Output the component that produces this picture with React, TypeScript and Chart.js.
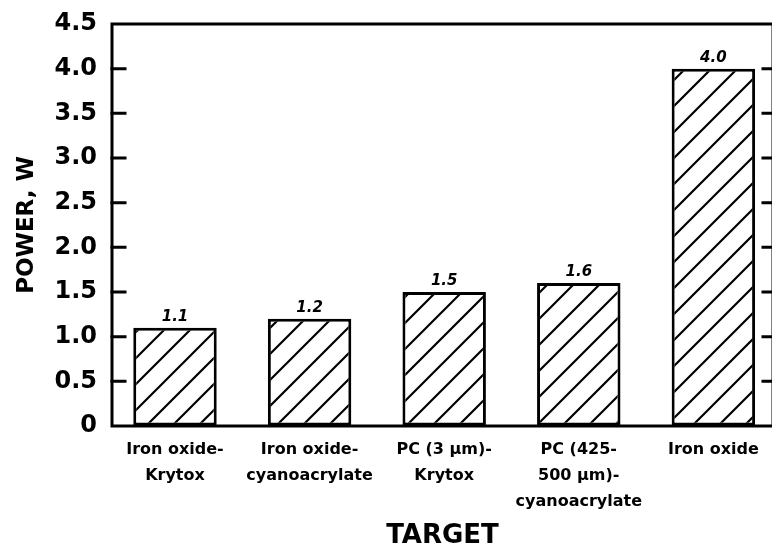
import React, { useEffect, useRef } from "react";
import { Chart, registerables } from "chart.js";

Chart.register(...registerables);

// ---- data ----
const categories: string[][] = [
  ["Iron oxide-", "Krytox"],
  ["Iron oxide-", "cyanoacrylate"],
  ["PC (3 μm)-", "Krytox"],
  ["PC (425-", "500 μm)-", "cyanoacrylate"],
  ["Iron oxide"],
];
const categoryIndex: number[] = [0, 1, 2, 3, 4];
const powerW: number[] = [1.1, 1.2, 1.5, 1.6, 4.0];
const valueLabels: string[] = ["1.1", "1.2", "1.5", "1.6", "4.0"];
const yTitle = "POWER, W";
const xTitle = "TARGET";
const yMin = 0;
const yMax = 4.5;
const yStep = 0.5;
const xMin = -0.468;
const xMax = 4.443;

const FONT = "'DejaVu Sans', sans-serif";

function makeHatch(): CanvasPattern | string {
  const s = 26;
  const c = document.createElement("canvas");
  c.width = s;
  c.height = s;
  const g = c.getContext("2d");
  if (!g) return "#fff";
  g.fillStyle = "#fff";
  g.fillRect(0, 0, s, s);
  g.strokeStyle = "#000";
  g.lineWidth = 2.2;
  g.beginPath();
  g.moveTo(-2, s + 2);
  g.lineTo(s + 2, -2);
  g.moveTo(-2, 2);
  g.lineTo(2, -2);
  g.moveTo(s - 2, s + 2);
  g.lineTo(s + 2, s - 2);
  g.stroke();
  const p = g.createPattern(c, "repeat");
  return p || "#fff";
}

const framePlugin = {
  id: "frame",
  afterDatasetsDraw(chart: any) {
    const { ctx, chartArea, scales } = chart;
    const { left, right, top, bottom } = chartArea;
    const y = scales.y;
    ctx.save();
    ctx.strokeStyle = "#000";
    ctx.lineWidth = 3;
    ctx.lineCap = "square";
    ctx.strokeRect(left, top, right - left, bottom - top);
    ctx.beginPath();
    y.ticks.forEach((t: any) => {
      if (t.value <= yMin || t.value >= yMax) return;
      const py = y.getPixelForValue(t.value);
      ctx.moveTo(left, py);
      ctx.lineTo(left + 13, py);
      ctx.moveTo(right - 10, py);
      ctx.lineTo(right, py);
    });
    ctx.stroke();
    ctx.restore();
  },
};

const valueLabelPlugin = {
  id: "valueLabels",
  afterDatasetsDraw(chart: any) {
    const { ctx } = chart;
    const meta = chart.getDatasetMeta(0);
    ctx.save();
    ctx.fillStyle = "#000";
    ctx.font = `italic bold 15px ${FONT}`;
    ctx.textAlign = "center";
    ctx.textBaseline = "alphabetic";
    meta.data.forEach((bar: any, i: number) => {
      ctx.fillText(valueLabels[i], bar.x, bar.y - 7);
    });
    ctx.restore();
  },
};

export default function App() {
  const ref = useRef<HTMLCanvasElement | null>(null);

  useEffect(() => {
    if (!ref.current) return;
    const hatch = makeHatch();
    const chart = new Chart(ref.current, {
      type: "bar",
      data: {
        datasets: [
          {
            data: categoryIndex.map((x, i) => ({ x, y: powerW[i] })),
            backgroundColor: hatch as any,
            borderColor: "#000",
            borderWidth: 3,
            borderSkipped: false,
            barPercentage: 0.62,
            categoryPercentage: 1,
          },
        ],
      },
      options: {
        responsive: false,
        animation: false,
        events: [],
        layout: { padding: { top: 24, left: 0, right: 0, bottom: 0 } },
        plugins: {
          legend: { display: false },
          tooltip: { enabled: false },
        },
        scales: {
          x: {
            type: "linear",
            min: xMin,
            max: xMax,
            offset: false,
            grid: { display: false, drawTicks: false, offset: false },
            border: { display: false },
            ticks: {
              stepSize: 1,
              includeBounds: false,
              autoSkip: false,
              maxRotation: 0,
              minRotation: 0,
              padding: 11,
              color: "#000",
              font: { family: FONT, size: 16, weight: "bold", lineHeight: 1.625 },
              callback: (v: any) =>
                Number.isInteger(v) && categories[v] ? categories[v] : "",
            },
            title: {
              display: true,
              text: xTitle,
              color: "#000",
              font: { family: FONT, size: 26, weight: "bold" },
              padding: { top: 0, bottom: -4 },
            },
            afterFit: (scale: any) => {
              scale.height = 122;
            },
          },
          y: {
            min: yMin,
            max: yMax,
            grid: {
              display: true,
              drawOnChartArea: false,
              drawTicks: true,
              tickLength: 15,
              color: "rgba(0,0,0,0)",
            },
            border: { display: false },
            ticks: {
              stepSize: yStep,
              padding: 0,
              color: "#000",
              font: { family: FONT, size: 24, weight: "bold" },
              callback: (v: any) => (Number(v) === 0 ? "0" : Number(v).toFixed(1)),
            },
            title: {
              display: true,
              text: yTitle,
              color: "#000",
              font: { family: FONT, size: 23, weight: "bold" },
              padding: { top: 13, bottom: 0 },
            },
            afterFit: (scale: any) => {
              scale.width = 112;
            },
          },
        },
      } as any,
      plugins: [framePlugin, valueLabelPlugin],
    });
    return () => chart.destroy();
  }, []);

  return (
    <div
      style={{
        position: "fixed",
        left: 0,
        top: 0,
        width: 772,
        height: 548,
        overflow: "hidden",
        background: "#fff",
      }}
    >
      <canvas ref={ref} width={773} height={548} style={{ display: "block" }} />
    </div>
  );
}
